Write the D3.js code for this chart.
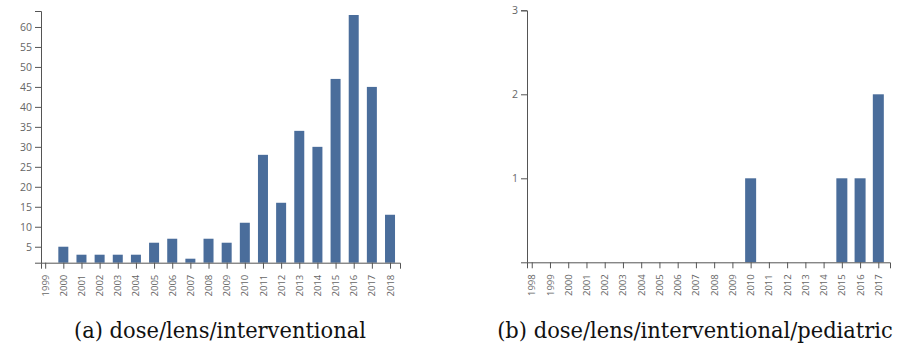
<!DOCTYPE html>
<html>
<head>
<meta charset="utf-8">
<script src="https://cdn.jsdelivr.net/npm/d3@7"></script>
<style>
  body { margin: 0; background: #fff; }
  .axis text { font-family: "Open Sans", sans-serif; fill: #666; }
  .axis path, .axis line { stroke: #555; }
  .caption { font-family: "DejaVu Serif", "Liberation Serif", serif; font-size: 22px; fill: #111; }
</style>
</head>
<body>
<svg id="chart" width="905" height="349"></svg>
<script>
// chart (a) dose/lens/interventional
var yearsA = [1999, 2000, 2001, 2002, 2003, 2004, 2005, 2006, 2007, 2008,
              2009, 2010, 2011, 2012, 2013, 2014, 2015, 2016, 2017, 2018];
var countsA = [0, 5, 3, 3, 3, 3, 6, 7, 2, 7,
               6, 11, 28, 16, 34, 30, 47, 63, 45, 13];
var yTicksA = [5, 10, 15, 20, 25, 30, 35, 40, 45, 50, 55, 60];

// chart (b) dose/lens/interventional/pediatric
var yearsB = [1998, 1999, 2000, 2001, 2002, 2003, 2004, 2005, 2006, 2007,
              2008, 2009, 2010, 2011, 2012, 2013, 2014, 2015, 2016, 2017];
var countsB = [0, 0, 0, 0, 0, 0, 0, 0, 0, 0,
               0, 0, 1, 0, 0, 0, 0, 1, 1, 2];
var yTicksB = [1, 2, 3];

var captions = ["(a) dose/lens/interventional", "(b) dose/lens/interventional/pediatric"];

var barColor = '#4a6d9b';
var svg = d3.select('#chart');

function drawChart(cfg) {
  var g = svg.append('g');

  var x = d3.scaleLinear().domain(cfg.xDomain).range([cfg.left, cfg.right]);
  var y = d3.scaleLinear().domain(cfg.yDomain).range([cfg.bottom, cfg.top]);

  // bars
  g.selectAll('rect')
    .data(cfg.counts.map(function(d, i){ return {year: cfg.years[i], n: d}; }))
    .enter()
    .append('rect')
    .attr('x', function(d){ return x(d.year) - cfg.barW / 2; })
    .attr('y', function(d){ return Math.min(y(d.n), cfg.bottom); })
    .attr('width', cfg.barW)
    .attr('height', function(d){ return Math.max(0, cfg.bottom - y(d.n)); })
    .attr('fill', barColor);

  // x axis, rotated year labels
  var xAxis = g.append('g')
    .attr('class', 'axis')
    .attr('transform', 'translate(0,' + cfg.bottom + ')')
    .call(d3.axisBottom(x).tickValues(cfg.years).tickFormat(d3.format('d')));
  xAxis.selectAll('text')
    .attr('transform', 'rotate(-90)')
    .attr('x', -12)
    .attr('y', 0)
    .attr('dy', '0.32em')
    .style('text-anchor', 'end')
    .style('font-size', '9.5px');

  // y axis
  var yAxis = g.append('g')
    .attr('class', 'axis')
    .attr('transform', 'translate(' + cfg.left + ',0)')
    .call(d3.axisLeft(y).tickValues(cfg.yTicks).tickFormat(d3.format('d')));
  yAxis.selectAll('text').style('font-size', '10.5px');

  // caption, squeezed horizontally to the width of the original
  var cap = svg.append('text')
    .attr('class', 'caption')
    .attr('text-anchor', 'middle')
    .text(cfg.caption);
  var k = cfg.capW / cap.node().getComputedTextLength();
  cap.attr('transform', 'translate(' + cfg.capX + ',338) scale(' + k + ',1)');
}

drawChart({
  years: yearsA, counts: countsA, yTicks: yTicksA,
  xDomain: [1998.77, 2018.55], yDomain: [1, 64],
  left: 41, right: 400, top: 11, bottom: 262.7,
  barW: 10, capX: 220, capW: 292, caption: captions[0]
});

drawChart({
  years: yearsB, counts: countsB, yTicks: yTicksB,
  xDomain: [1997.74, 2017.64], yDomain: [0, 3],
  left: 527, right: 890, top: 10.3, bottom: 262.3,
  barW: 11, capX: 695, capW: 396, caption: captions[1]
});
</script>
</body>
</html>
